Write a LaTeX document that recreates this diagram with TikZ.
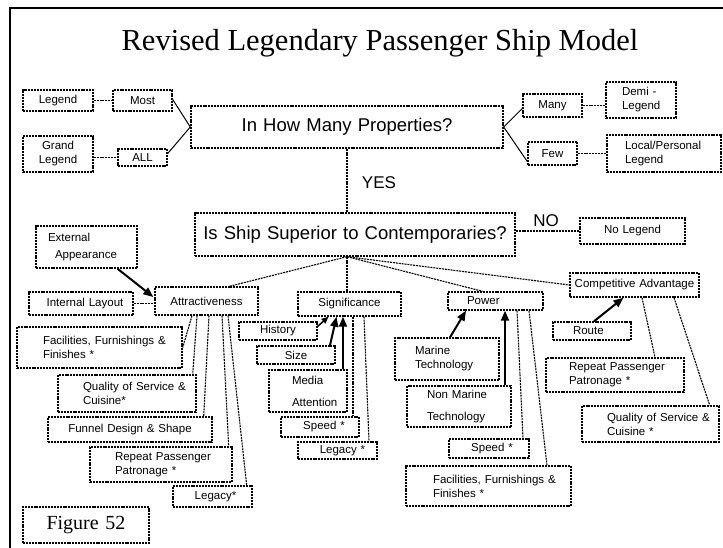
\documentclass[tikz,border=0pt]{standalone}
\usepackage{fontspec}
\usetikzlibrary{arrows.meta,calc}
\newfontfamily\arialf{Liberation Sans}
\newfontfamily\timesf{Liberation Serif}
\newcommand{\ind}[1]{\hspace*{#1pt}}
\tikzset{
  box/.style={draw, line width=1.4pt, dash pattern=on 2pt off 0.9pt, inner sep=0pt,
    align=center, font=\arialf\fontsize{11.5}{14}\selectfont},
  lbox/.style={box, align=left},
  wh/.style 2 args={minimum width=#1pt, minimum height=#2pt, text width=#1pt},
  conn/.style={line width=1.1pt, dash pattern=on 2pt off 0.9pt},
  sline/.style={line width=1pt},
  arr/.style={line width=2pt, -{Triangle[length=10pt,width=8pt]}},
  bigq/.style={box, font=\arialf\fontsize{18.5}{22}\selectfont},
  yn/.style={inner sep=0pt, font=\arialf\fontsize{17}{20}\selectfont}
}
\begin{document}
\begin{tikzpicture}[x=1pt,y=-1pt]
\useasboundingbox (0,0) rectangle (723,548);
\draw[line width=2.5pt] (10,549) -- (10,8) -- (724,8);
\node[inner sep=0pt, font=\timesf\fontsize{30.5}{34}\selectfont] (title) at (380,43) {Revised Legendary Passenger Ship Model};

% top decision
\node[bigq, wh={312}{42}] (main1) at (347,127) {In How Many Properties?};
\node[box, wh={70}{21}] (legend) at (58,100.5) {Legend};
\node[box, wh={59}{21}] (most) at (142.5,100.5) {Most};
\node[box, wh={70}{36}] (grand) at (58,154) {Grand\\Legend};
\node[box, wh={49}{17}] (all) at (142.5,157.5) {ALL};
\node[box, wh={59}{23}] (many) at (552.5,105.5) {Many};
\node[lbox, wh={70}{36}] (demi) at (641,100) {\ind{16}Demi -\\\ind{16}Legend};
\node[box, wh={49}{23}] (few) at (552.5,153.5) {Few};
\node[lbox, wh={114}{37}] (local) at (664,153.5) {\ind{18}Local/Personal\\\ind{18}Legend};
\node[yn] (yes) at (379,183) {YES};

% second decision
\node[bigq, wh={320}{43}] (main2) at (355,234.5) {Is Ship Superior to Contemporaries?};
\node[yn] (no) at (546,221) {NO};
\node[box, wh={105}{26}] (nolegend) at (632.5,231) {No Legend};

% attractiveness
\node[lbox, wh={101}{42}] (ext) at (86.5,247) {\ind{12}External\\[3pt]\ind{19}Appearance};
\node[box, wh={103}{28}] (attr) at (206.5,301) {Attractiveness\\[4pt]};
\node[box, wh={104}{23}] (intl) at (81,303.5) {\ind{8}Internal Layout};
\node[lbox, wh={165}{41}] (fac1) at (99.5,347.5) {\ind{26}Facilities, Furnishings \&\\\ind{26}Finishes *};
\node[lbox, wh={138}{37}] (qual1) at (127,393.5) {\ind{25}Quality of Service \&\\\ind{25}Cuisine*};
\node[box, wh={164}{25}] (funnel) at (130,429.5) {Funnel Design \& Shape};
\node[lbox, wh={142}{35}] (rep1) at (161,464.5) {\ind{25}Repeat Passenger\\\ind{25}Patronage *};
\node[box, wh={79}{21}] (leg1) at (212.5,496.5) {\ind{6}Legacy*};
\node[box, wh={126}{36}, font=\timesf\fontsize{20}{24}\selectfont] (fig) at (86,525) {Figure 52};

% significance
\node[box, wh={103}{24}] (sig) at (349.5,304) {Significance};
\node[box, wh={78}{18}] (hist) at (278,331) {History};
\node[box, wh={78}{18}] (size) at (296,355) {Size\ind{12}};
\node[lbox, wh={78}{42}] (media) at (308,391) {\ind{23}Media\\[8pt]\ind{23}Attention};
\node[box, wh={78}{20}] (speed1) at (320,427) {\ind{8}Speed *};
\node[box, wh={79}{17}] (leg2) at (337.5,450.5) {\ind{10}Legacy *};

% power
\node[lbox, wh={95}{18}] (power) at (495.5,301) {\ind{19}Power};
\node[lbox, wh={104}{42}] (marine) at (447,359) {\ind{20}Marine\\\ind{20}Technology};
\node[lbox, wh={104}{41}] (nonmarine) at (459,406.5) {\ind{20}Non Marine\\[8pt]\ind{20}Technology};
\node[box, wh={80}{19}] (speed2) at (489,448.5) {\ind{6}Speed *};
\node[lbox, wh={165}{40}] (fac2) at (488.5,486) {\ind{27}Facilities, Furnishings \&\\\ind{27}Finishes *};

% competitive advantage
\node[box, wh={129}{24}] (comp) at (634.5,285) {Competitive Advantage};
\node[lbox, wh={78}{18}] (route) at (592,331) {\ind{20}Route};
\node[lbox, wh={138}{34}] (rep2) at (615,375) {\ind{23}Repeat Passenger\\\ind{23}Patronage *};
\node[lbox, wh={137}{36}] (qual2) at (650.5,424) {\ind{25}Quality of Service \&\\\ind{25}Cuisine *};

% connectors top
\draw[conn] (legend.east) -- (most.west);
\draw[conn] (all.west -| grand.east) -- (all.west);
\draw[sline] ($(most.east)+(0,-1)$) -- (main1.west);
\draw[sline] ($(all.east)+(0,-4)$) -- (main1.west);
\draw[sline] (main1.east) -- ($(many.west)+(0,3)$);
\draw[sline] (main1.east) -- ($(few.west)+(0,8)$);
\draw[conn] (many.east) -- (many.east -| demi.west);
\draw[conn] (few.east) -- (few.east -| local.west);
\draw[conn] (main1.south) -- (main1.south |- main2.north);
\draw[conn] (nolegend.west -| main2.east) -- (nolegend.west);

% hub
\coordinate (hub) at (main1.south |- main2.south);
\draw[conn] (hub) -- ($(attr.north)+(23,0)$);
\draw[conn] (hub) -- (hub |- sig.north);
\draw[conn] (hub) -- ($(power.north)+(-13,0)$);
\draw[conn] (hub) -- (comp.west);

% attractiveness
\draw[arr] ($(ext.south)+(31,0)$) -- ($(attr.west)+(-1,-4)$);
\draw[conn] (intl.east) -- (intl.east -| attr.west);
\draw[conn] ($(attr.south)+(-14.5,0)$) -- (fac1.east);
\draw[conn] ($(attr.south)+(-9.5,0)$) -- ($(qual1.north east)+(-4,0)$);
\draw[conn] ($(attr.south)+(2.5,0)$) -- ($(funnel.north east)+(-9,0)$);
\draw[conn] ($(attr.south)+(15.5,0)$) -- ($(rep1.north east)+(-4,0)$);
\draw[conn] ($(attr.south)+(21.5,0)$) -- ($(leg1.north east)+(-6,0)$);

% significance
\draw[arr, -{Triangle[length=7pt,width=6pt]}, line width=1.5pt] ($(hist.north east)+(0,5)$) -- ($(sig.south)+(-21,0)$);
\draw[arr] ($(size.north)+(34,0)$) -- ($(sig.south)+(-13,0)$);
\draw[arr] ($(media.north)+(35,0)$) -- ($(sig.south)+(-6.5,0)$);
\draw[conn] ($(sig.south)+(3.5,0)$) -- ($(speed1.north)+(33,0)$);
\draw[conn] ($(sig.south)+(14.5,0)$) -- ($(leg2.north)+(31.5,0)$);

% power
\draw[arr] ($(marine.north)+(3,0)$) -- ($(power.south)+(-29.5,0)$);
\draw[arr] ($(nonmarine.north)+(46,0)$) -- ($(power.south)+(9.5,0)$);
\draw[conn] ($(power.south)+(21.5,0)$) -- ($(speed2.north)+(34,0)$);
\draw[conn] ($(power.south)+(33.5,0)$) -- ($(fac2.north)+(58.5,0)$);

% competitive advantage
\draw[arr] ($(route.north)+(2,0)$) -- ($(comp.south)+(-11,0)$);
\draw[conn] ($(comp.south)+(7.5,0)$) -- ($(rep2.north)+(40,0)$);
\draw[conn] ($(comp.south)+(39.5,0)$) -- ($(qual2.north east)+(-10,0)$);
\end{tikzpicture}
\end{document}
